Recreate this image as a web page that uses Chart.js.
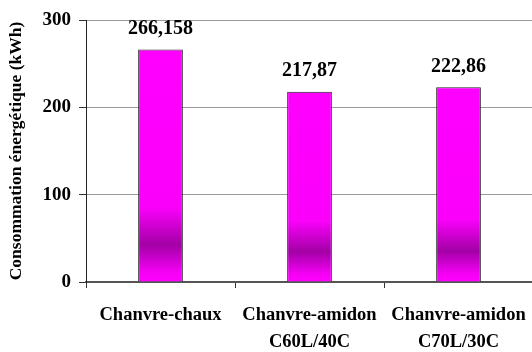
<!DOCTYPE html>
<html>
<head>
<meta charset="utf-8">
<script src="https://cdn.jsdelivr.net/npm/chart.js@4/dist/chart.umd.min.js"></script>
<style>
html,body{margin:0;padding:0;background:#fff;overflow:hidden;}
#wrap{width:540px;height:352px;}
</style>
</head>
<body>
<div id="wrap"><canvas id="c" width="540" height="352"></canvas></div>
<script>
const categories = [["Chanvre-chaux"], ["Chanvre-amidon", "C60L/40C"], ["Chanvre-amidon", "C70L/30C"]];
const energyValues = [266.158, 217.87, 222.86];
const yTicks = [0, 100, 200, 300];
const yTitle = "Consommation énergétique (kWh)";

const FONT = "'Liberation Serif', 'Times New Roman', serif";

function barGradient(ctx) {
  const chart = ctx.chart;
  if (!chart.chartArea || ctx.raw === undefined) return '#FF00FF';
  const y = chart.scales.y;
  const top = y.getPixelForValue(ctx.raw);
  const base = y.getPixelForValue(0);
  const g = chart.ctx.createLinearGradient(0, top, 0, base);
  g.addColorStop(0, '#FF00FF');
  g.addColorStop(0.68, '#FA00FA');
  g.addColorStop(0.84, '#A300A6');
  g.addColorStop(0.96, '#F600F6');
  g.addColorStop(1, '#FF00FF');
  return g;
}

const valueLabels = {
  id: 'valueLabels',
  afterDatasetsDraw(chart) {
    const c = chart.ctx;
    const meta = chart.getDatasetMeta(0);
    c.save();
    c.font = "bold 20px " + FONT;
    c.fillStyle = '#000';
    c.textAlign = 'center';
    c.textBaseline = 'middle';
    meta.data.forEach((bar, i) => {
      const txt = String(energyValues[i]).replace('.', ',');
      c.fillText(txt, bar.x, bar.y - 21);
    });
    c.restore();
  }
};

new Chart(document.getElementById('c'), {
  type: 'bar',
  data: {
    labels: categories,
    datasets: [{
      data: energyValues,
      backgroundColor: barGradient,
      borderColor: '#222',
      borderWidth: 1,
      barPercentage: 0.3,
      categoryPercentage: 1.0
    }]
  },
  options: {
    responsive: false,
    animation: false,
    events: [],
    layout: { padding: { top: 20, right: 2, left: 0, bottom: 0 } },
    plugins: { legend: { display: false }, tooltip: { enabled: false } },
    scales: {
      x: {
        grid: { display: true, drawOnChartArea: false, drawTicks: true, tickLength: 6, color: '#333', offset: true },
        border: { display: true, color: '#555', width: 2 },
        ticks: {
          color: '#000',
          font: { family: FONT, size: 18.5, weight: 'bold', lineHeight: 1.46 },
          padding: 14,
          maxRotation: 0,
          autoSkip: false
        },
        afterFit(s) { s.height = 70; }
      },
      y: {
        min: 0, max: 300,
        afterBuildTicks(s) { s.ticks = yTicks.map(v => ({ value: v })); },
        grid: { color: '#999', tickColor: '#333', tickLength: 7, lineWidth: 1 },
        border: { display: true, color: '#222', width: 1 },
        ticks: {
          color: '#000',
          font: { family: FONT, size: 19, weight: 'bold' },
          padding: 8
        },
        title: {
          display: true,
          text: yTitle,
          color: '#000',
          font: { family: FONT, size: 17.5, weight: 'bold' },
          padding: { top: 6, bottom: 0 }
        },
        afterFit(s) { s.width = 86; }
      }
    }
  },
  plugins: [valueLabels]
});
</script>
</body>
</html>
